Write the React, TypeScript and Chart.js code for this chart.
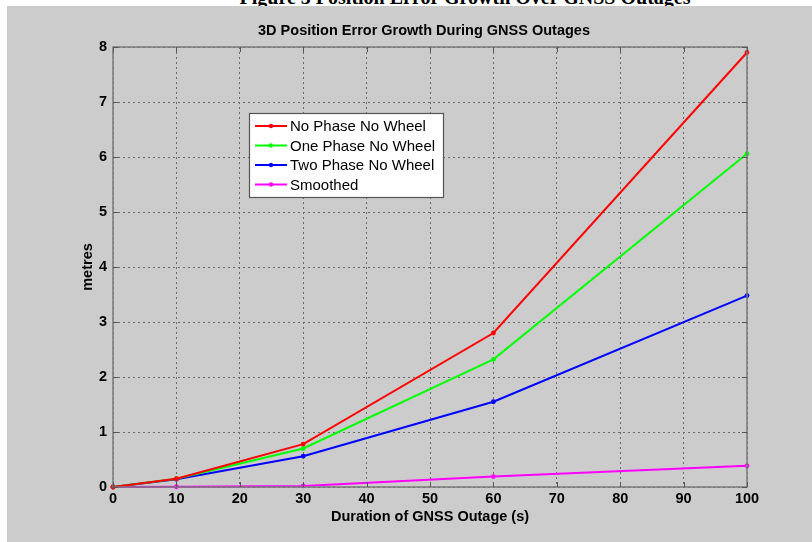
import React, { useEffect, useRef } from "react";
import { Chart, registerables } from "chart.js";
Chart.register(...registerables);

const durations = [0, 10, 30, 60, 100];
const noPhaseNoWheel = [0, 0.15, 0.78, 2.8, 7.9];
const onePhaseNoWheel = [0, 0.15, 0.7, 2.32, 6.06];
const twoPhaseNoWheel = [0, 0.14, 0.56, 1.55, 3.48];
const smoothed = [0, 0.005, 0.02, 0.19, 0.385];
const seriesNames = ["No Phase No Wheel", "One Phase No Wheel", "Two Phase No Wheel", "Smoothed"];
const seriesColors = ["#ff0000", "#00ff00", "#0000ff", "#ff00ff"];
const chartTitle = "3D Position Error Growth During GNSS Outages";
const xTitle = "Duration of GNSS Outage (s)";
const yTitle = "metres";
const pageTitle = "Figure 5 Position Error Growth Over GNSS Outages";

const FONT = '"Liberation Sans", Arial, Helvetica, sans-serif';

const matlabPlugin = {
  id: "matlabDecor",
  afterDraw(chart: any) {
    const { ctx, chartArea: ca, scales } = chart;
    ctx.save();
    ctx.setLineDash([]);
    // axes box
    ctx.strokeStyle = "#7a7a7a";
    ctx.lineWidth = 1.5;
    ctx.strokeRect(ca.left, ca.top, ca.right - ca.left, ca.bottom - ca.top);
    // inward ticks
    const tl = 5;
    ctx.lineWidth = 1;
    ctx.strokeStyle = "#555";
    ctx.beginPath();
    scales.x.ticks.forEach((t: any) => {
      const px = Math.round(scales.x.getPixelForValue(t.value)) + 0.5;
      ctx.moveTo(px, ca.bottom);
      ctx.lineTo(px, ca.bottom - tl);
      ctx.moveTo(px, ca.top);
      ctx.lineTo(px, ca.top + tl);
    });
    scales.y.ticks.forEach((t: any) => {
      const py = Math.round(scales.y.getPixelForValue(t.value)) + 0.5;
      ctx.moveTo(ca.left, py);
      ctx.lineTo(ca.left + tl, py);
      ctx.moveTo(ca.right, py);
      ctx.lineTo(ca.right - tl, py);
    });
    ctx.stroke();

    // title
    ctx.fillStyle = "#000";
    ctx.font = `bold 14.5px ${FONT}`;
    ctx.textAlign = "center";
    ctx.textBaseline = "middle";
    ctx.fillText(chartTitle, 417, 25);

    // legend
    const lx = 242, ly = 107, lw = 194, lh = 84;
    ctx.fillStyle = "#ffffff";
    ctx.fillRect(lx, ly, lw, lh);
    ctx.strokeStyle = "#555";
    ctx.lineWidth = 1.2;
    ctx.strokeRect(lx + 0.5, ly + 0.5, lw, lh);
    ctx.font = `15px ${FONT}`;
    ctx.textAlign = "left";
    chart.data.datasets.forEach((ds: any, i: number) => {
      const y = ly + 13 + i * 19.5;
      ctx.strokeStyle = ds.borderColor;
      ctx.lineWidth = 2;
      ctx.beginPath();
      ctx.moveTo(lx + 6, y);
      ctx.lineTo(lx + 38, y);
      ctx.stroke();
      ctx.fillStyle = ds.borderColor;
      ctx.beginPath();
      ctx.arc(lx + 22, y, 2.2, 0, Math.PI * 2);
      ctx.fill();
      ctx.fillStyle = "#000";
      ctx.fillText(ds.label, lx + 41, y + 1);
    });
    ctx.restore();
  },
};

export default function App() {
  const ref = useRef<HTMLCanvasElement | null>(null);
  useEffect(() => {
    if (!ref.current) return;
    const series = [noPhaseNoWheel, onePhaseNoWheel, twoPhaseNoWheel, smoothed];
    const chart = new Chart(ref.current, {
      type: "line",
      data: {
        datasets: series.map((vals, i) => ({
          label: seriesNames[i],
          data: durations.map((d, j) => ({ x: d, y: vals[j] })),
          borderColor: seriesColors[i],
          backgroundColor: seriesColors[i],
          borderWidth: 2,
          pointRadius: 2.4,
          pointHoverRadius: 2.4,
          pointBorderWidth: 0,
          tension: 0,
          clip: false as any,
        })),
      },
      options: {
        animation: false,
        responsive: false,
        devicePixelRatio: 1,
        layout: { padding: { left: 0, right: 65, top: 41, bottom: 0 } },
        plugins: { legend: { display: false }, tooltip: { enabled: false }, title: { display: false } },
        scales: {
          x: {
            type: "linear",
            min: 0,
            max: 100,
            ticks: { stepSize: 10, color: "#000", padding: 3.3, font: { family: FONT, size: 14.5, weight: "bold" }, maxRotation: 0 },
            grid: { color: "#6a6a6a", lineWidth: 1, drawTicks: false },
            border: { display: false, dash: [2, 3] },
            title: { display: true, text: xTitle, color: "#000", font: { family: FONT, size: 14.5, weight: "bold" }, padding: { top: 0, bottom: 16.3 } },
            afterFit: (axis: any) => { axis.height = 55; },
          },
          y: {
            type: "linear",
            min: 0,
            max: 8,
            ticks: { stepSize: 1, color: "#000", padding: 6, font: { family: FONT, size: 14.5, weight: "bold" } },
            grid: { color: "#6a6a6a", lineWidth: 1, drawTicks: false },
            border: { display: false, dash: [2, 3] },
            title: { display: true, text: yTitle, color: "#000", font: { family: FONT, size: 14.5, weight: "bold" }, padding: { top: 72, bottom: 0 } },
            afterFit: (axis: any) => { axis.width = 106; },
          },
        },
      },
      plugins: [matlabPlugin],
    });
    return () => chart.destroy();
  }, []);

  return (
    <div style={{ position: "fixed", left: 0, top: 0, width: 812, height: 542, background: "#fff", overflow: "hidden" }}>
      <div
        style={{
          position: "absolute",
          left: 0,
          width: 930,
          top: -13,
          textAlign: "center",
          font: 'bold 20px "Liberation Serif", "Times New Roman", serif',
          lineHeight: "20px",
          whiteSpace: "nowrap",
          color: "#000",
        }}
      >
        {pageTitle}
      </div>
      <div style={{ position: "absolute", left: 7, top: 6, width: 805, height: 536, background: "#cccccc" }}>
        <canvas ref={ref} width={805} height={536} style={{ display: "block", width: 805, height: 536 }} />
      </div>
    </div>
  );
}
